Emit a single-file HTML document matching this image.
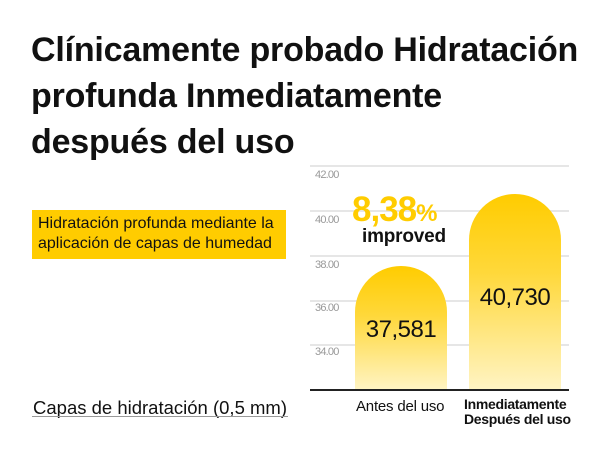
<!DOCTYPE html>
<html><head><meta charset="utf-8"><style>
body{margin:0;width:600px;height:450px;background:#fff;position:relative;overflow:hidden;font-family:"Liberation Sans",sans-serif;color:#111}
.a{position:absolute;white-space:nowrap}
.t{left:31px;font-size:34px;font-weight:bold;letter-spacing:-0.2px}
.g{position:absolute;left:310px;width:259px;height:2px;background:#e6e6e6}
.y{position:absolute;left:315px;font-size:11px;color:#999;letter-spacing:-0.8px}
.bar{position:absolute;width:92px;border-radius:46px 46px 0 0;background:linear-gradient(#ffcc00 0%,#ffd83a 40%,#fff4c4 100%)}
.v{position:absolute;font-size:24px;width:92px;text-align:center;letter-spacing:-0.5px}
</style></head><body>
<div class="a t" style="top:31px">Clínicamente probado Hidratación</div>
<div class="a t" style="top:77px">profunda Inmediatamente</div>
<div class="a t" style="top:123px">después del uso</div>

<div class="a" style="left:32px;top:210px;width:254px;height:49px;background:#ffcc00"></div>
<div class="a" style="left:38px;top:214px;font-size:16px;line-height:20px;letter-spacing:0">Hidratación profunda mediante la<br>aplicación de capas de humedad</div>

<div class="a" style="left:33px;top:397px;font-size:18.5px;letter-spacing:0">Capas de hidratación (0,5 mm)</div>
<div class="a" style="left:32px;top:416px;width:256px;height:1px;background:#999"></div>

<div class="g" style="top:165px"></div>
<div class="g" style="top:210px"></div>
<div class="g" style="top:255px"></div>
<div class="g" style="top:300px"></div>
<div class="g" style="top:344px"></div>
<div class="y" style="top:169px">42.00</div>
<div class="y" style="top:214px">40.00</div>
<div class="y" style="top:259px">38.00</div>
<div class="y" style="top:302px">36.00</div>
<div class="y" style="top:346px">34.00</div>

<div class="bar" style="left:355px;top:266px;height:124px"></div>
<div class="bar" style="left:469px;top:194px;height:196px"></div>
<div class="a" style="left:310px;top:389px;width:259px;height:2px;background:#222"></div>

<div class="v" style="left:355px;top:316px">37,581</div>
<div class="v" style="left:469px;top:284px">40,730</div>

<div class="a" style="left:352px;top:190px;font-size:35px;font-weight:bold;color:#ffcc00;letter-spacing:-1px">8,38<span style="font-size:24px">%</span></div>
<div class="a" style="left:362px;top:226px;font-size:19px;font-weight:bold;letter-spacing:-0.2px">improved</div>

<div class="a" style="left:356px;top:398px;font-size:15px;letter-spacing:-0.2px">Antes del uso</div>
<div class="a" style="left:464px;top:397px;font-size:14px;font-weight:bold;line-height:15px;letter-spacing:-0.3px">Inmediatamente<br>Después del uso</div>
</body></html>
